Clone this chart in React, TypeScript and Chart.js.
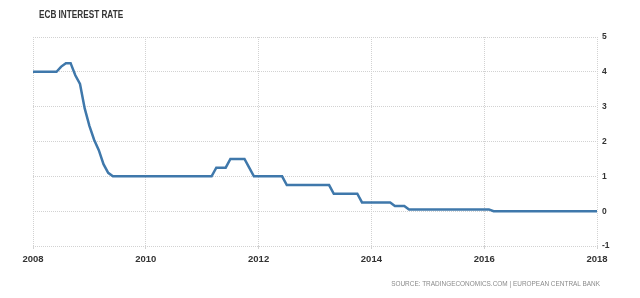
import React, { useEffect, useRef } from "react";
import { Chart, registerables } from "chart.js";

Chart.register(...registerables);

const TITLE = "ECB INTEREST RATE";
const SOURCE = "SOURCE: TRADINGECONOMICS.COM | EUROPEAN CENTRAL BANK";
const START_YEAR = 2008;
const X_TICKS = [2008, 2010, 2012, 2014, 2016, 2018];
const Y_TICKS = [-1, 0, 1, 2, 3, 4, 5];

// Monthly rate, Jan 2008 .. Jan 2018
const RATES_2008 = [4.0, 4.0, 4.0, 4.0, 4.0, 4.0, 4.15, 4.25, 4.25, 3.9, 3.65, 2.95];
const RATES_2009 = [2.45, 2.05, 1.75, 1.35, 1.1, 1.0, 1.0, 1.0, 1.0, 1.0, 1.0, 1.0];
const RATES_2010 = [1.0, 1.0, 1.0, 1.0, 1.0, 1.0, 1.0, 1.0, 1.0, 1.0, 1.0, 1.0];
const RATES_2011 = [1.0, 1.0, 1.0, 1.25, 1.25, 1.25, 1.5, 1.5, 1.5, 1.5, 1.25, 1.0];
const RATES_2012 = [1.0, 1.0, 1.0, 1.0, 1.0, 1.0, 0.75, 0.75, 0.75, 0.75, 0.75, 0.75];
const RATES_2013 = [0.75, 0.75, 0.75, 0.75, 0.5, 0.5, 0.5, 0.5, 0.5, 0.5, 0.25, 0.25];
const RATES_2014 = [0.25, 0.25, 0.25, 0.25, 0.25, 0.15, 0.15, 0.15, 0.05, 0.05, 0.05, 0.05];
const RATES_2015 = [0.05, 0.05, 0.05, 0.05, 0.05, 0.05, 0.05, 0.05, 0.05, 0.05, 0.05, 0.05];
const RATES_2016 = [0.05, 0.05, 0.0, 0.0, 0.0, 0.0, 0.0, 0.0, 0.0, 0.0, 0.0, 0.0];
const RATES_2017 = [0.0, 0.0, 0.0, 0.0, 0.0, 0.0, 0.0, 0.0, 0.0, 0.0, 0.0, 0.0];
const RATES_2018 = [0.0];

const RATES = [
  ...RATES_2008, ...RATES_2009, ...RATES_2010, ...RATES_2011, ...RATES_2012,
  ...RATES_2013, ...RATES_2014, ...RATES_2015, ...RATES_2016, ...RATES_2017, ...RATES_2018,
];

export default function App() {
  const ref = useRef<HTMLCanvasElement | null>(null);

  useEffect(() => {
    if (!ref.current) return;
    const points = RATES.map((v, i) => ({ x: START_YEAR + i / 12, y: v }));
    const gridColor = "#d2d2d2";
    const chart = new Chart(ref.current, {
      type: "line",
      data: {
        datasets: [
          {
            data: points,
            borderColor: "#3f78ab",
            borderWidth: 2.5,
            pointRadius: 0,
            tension: 0,
            fill: false,
          },
        ],
      },
      options: {
        animation: false,
        responsive: false,
        maintainAspectRatio: false,
        layout: { padding: { top: 37, left: 33, right: 0, bottom: 0 } },
        plugins: { legend: { display: false }, tooltip: { enabled: false }, title: { display: false } },
        scales: {
          x: {
            type: "linear",
            min: 2008,
            max: 2018,
            afterBuildTicks: (s: any) => {
              s.ticks = X_TICKS.map((v) => ({ value: v }));
            },
            afterFit: (s: any) => {
              s.height = 52;
            },
            border: { display: false, dash: [1, 1] },
            grid: {
              color: gridColor,
              lineWidth: 1,
              tickLength: 3,
            },
            ticks: {
              padding: 5,
              maxRotation: 0,
              autoSkip: false,
              color: "#333",
              font: { family: "Liberation Sans", size: 9.5, weight: "bold" },
              callback: (v: any) => String(v),
            },
          },
          y: {
            position: "right",
            min: -1,
            max: 5,
            afterBuildTicks: (s: any) => {
              s.ticks = Y_TICKS.map((v) => ({ value: v }));
            },
            afterFit: (s: any) => {
              s.width = 43;
            },
            border: { display: false, dash: [1, 1] },
            grid: { color: gridColor, lineWidth: 1, drawTicks: false },
            ticks: {
              padding: 5,
              color: "#333",
              font: { family: "Liberation Sans", size: 8.5, weight: "bold" },
              callback: (v: any) => String(v),
            },
          },
        },
      },
    });
    return () => chart.destroy();
  }, []);

  return (
    <div style={{ position: "fixed", left: 0, top: 0, width: 640, height: 298, background: "#fff" }}>
      <canvas ref={ref} width={640} height={298} style={{ width: 640, height: 298, display: "block" }} />
      <div
        style={{
          position: "absolute",
          left: 39,
          top: 9,
          fontFamily: "Liberation Sans",
          fontSize: 10,
          fontWeight: 600,
          color: "#333",
          whiteSpace: "nowrap",
          transform: "scaleX(0.82)",
          transformOrigin: "left top",
        }}
      >
        {TITLE}
      </div>
      <div
        style={{
          position: "absolute",
          right: 40,
          top: 280,
          fontFamily: "Liberation Sans",
          fontSize: 7,
          color: "#8a8a8a",
          whiteSpace: "nowrap",
          transform: "scaleX(0.92)",
          transformOrigin: "right top",
        }}
      >
        {SOURCE}
      </div>
    </div>
  );
}
